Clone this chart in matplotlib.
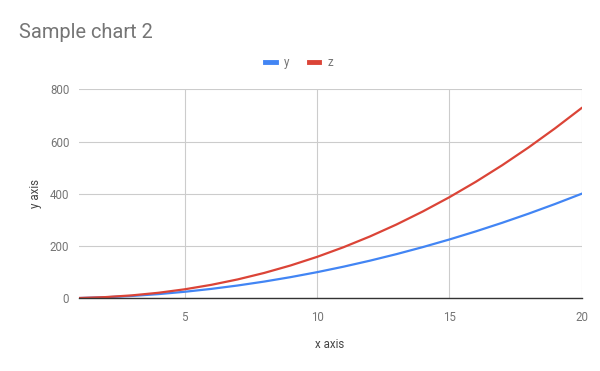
import matplotlib.pyplot as plt

plt.rcParams["font.family"] = ["Roboto", "DejaVu Sans"]

# Data
x = [1, 2, 3, 4, 5, 6, 7, 8, 9, 10, 11, 12, 13, 14, 15, 16, 17, 18, 19, 20]
y = [1, 4, 9, 16, 25, 36, 49, 64, 81, 100, 121, 144, 169, 196, 225, 256, 289, 324, 361, 400]
z = [1, 4.6, 11.2, 21.1, 34.5, 51.5, 72.3, 97, 125.7, 158.5,
     195.5, 236.7, 282.3, 332.4, 386.7, 445.7, 509.3, 577.6, 650.6, 728]
x_ticks = [5, 10, 15, 20]
y_ticks = [0, 200, 400, 600, 800]

W, H = 600, 371
fig = plt.figure(figsize=(6, 3.71), dpi=100)
ax = fig.add_axes([79 / W, 1 - 298.3 / H, (581.5 - 79) / W, (298.3 - 89.3) / H])

ax.plot(x, y, color="#4285F4", linewidth=1.6, label="y", zorder=3)
ax.plot(x, z, color="#DB4437", linewidth=1.6, label="z", zorder=3)

ax.set_xlim(1, 20)
ax.set_ylim(0, 800)
ax.set_xticks(x_ticks)
ax.set_yticks(y_ticks)
ax.grid(True, color="#cccccc", linewidth=0.8)
ax.set_axisbelow(True)
for side in ["top", "left", "right"]:
    ax.spines[side].set_visible(False)
ax.spines["bottom"].set_color("#333333")
ax.spines["bottom"].set_linewidth(1.0)
ax.spines["bottom"].set_zorder(4)
ax.tick_params(length=0, labelsize=8.3, labelcolor="#757575")
ax.tick_params(axis="x", pad=9)
ax.tick_params(axis="y", pad=7)

fig.text(19 / W, 1 - 32 / H, "Sample chart 2", fontsize=14.4, color="#757575",
         ha="left", va="center")
fig.text(330 / W, 1 - 345 / H, "x axis", fontsize=8.3, color="#444444",
         ha="center", va="center")
fig.text(35 / W, 1 - 193 / H, "y axis", fontsize=8.3, color="#444444",
         ha="center", va="center", rotation=90)

fig.legend(loc="center", bbox_to_anchor=(299 / W, 1 - 62.5 / H), ncol=2, frameon=False,
           fontsize=8.3, labelcolor="#757575", handlelength=0.9, handletextpad=0.7,
           columnspacing=1.7)
for ln in fig.legends[0].get_lines():
    ln.set_linewidth(3.5)

fig.savefig("out.png", dpi=100)
